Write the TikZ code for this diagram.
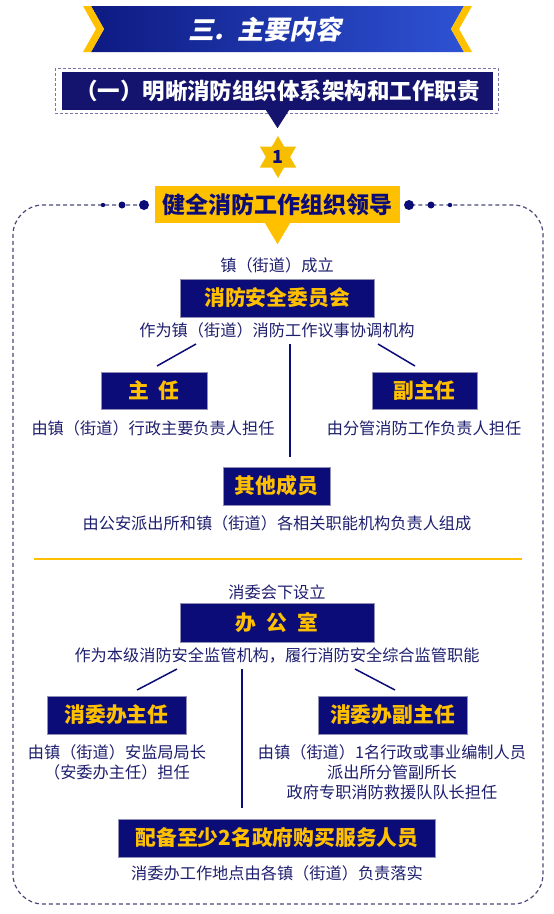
\documentclass[tikz,border=0pt]{standalone}
\usepackage{fontspec}
\usepackage{xcolor}
\setmainfont{Noto Sans CJK SC}
\newfontfamily\titlefont[FakeSlant=0.2]{Noto Sans CJK SC}

\definecolor{navy}{HTML}{0C0C78}
\definecolor{subnavy}{HTML}{14146E}
\definecolor{ink}{HTML}{1E1E6E}
\definecolor{gold}{HTML}{FFC000}
\definecolor{stargold}{HTML}{F7BE00}
\definecolor{boxedge}{HTML}{9090B4}
\definecolor{dashgray}{HTML}{484878}
\definecolor{bnavy}{HTML}{0E1A82}
\definecolor{bblue}{HTML}{2E52D4}

\begin{document}
\begin{tikzpicture}[x=1pt, y=-1pt,
  navybox/.style={fill=navy, draw=boxedge, line width=0.8pt, text=gold, inner sep=0pt,
    minimum height=38pt, font=\bfseries\fontsize{20.8}{24}\selectfont},
  note/.style={text=ink, inner sep=0pt, align=center, font=\fontsize{16.2}{20}\selectfont},
  link/.style={navy, line width=1.5pt},
  outerframe/.style={dashgray, line width=1.2pt, dash pattern=on 4pt off 3pt},
]
\useasboundingbox (0,0) rectangle (554,914);

% Title banner
\shade[left color=bnavy, middle color=bnavy, right color=bblue]
  (91,6) -- (464,6) -- (451,29) -- (464,52) -- (91,52) -- (104,29) -- cycle;
\fill[gold] (83,6) -- (91,6) -- (104,29) -- (91,52) -- (83,52) -- (96,29) -- cycle;
\fill[gold] (464,6) -- (472,6) -- (459,29) -- (472,52) -- (464,52) -- (451,29) -- cycle;
\node[text=white, font=\titlefont\bfseries\fontsize{26}{28}\selectfont] (title) at (265,29)
  {三.\hspace{14pt}主要内容};

% Subtitle
\draw[boxedge!80!navy, line width=1pt, dash pattern=on 3pt off 2pt] (55,68) rectangle (498,113);
\node[fill=subnavy, text=white, minimum width=431pt, minimum height=38pt, inner sep=0pt,
  font=\bfseries\fontsize{22.5}{24}\selectfont] (subtitle) at (277.5,91)
  {（一）明晰消防组织体系架构和工作职责};
\fill[subnavy] ([xshift=-11.5pt]subtitle.south) -- ([xshift=11.5pt]subtitle.south)
  -- ([yshift=-18pt]subtitle.south) -- cycle;

% Badge
\coordinate (badgec) at (278,157);
\fill[stargold] (badgec) +(90:21) -- +(210:21) -- +(330:21) -- cycle;
\fill[stargold] (badgec) +(270:21) -- +(30:21) -- +(150:21) -- cycle;
\node[text=navy, font=\bfseries\fontsize{18}{20}\selectfont] (badge) at (badgec) {1};

% Dashed container with dots
\draw[outerframe, rounded corners=30pt] (144,205) -- (13,205) -- (13,904) -- (543,904)
  -- (543,205) -- (409,205);
\foreach \x/\r in {144/5, 122/3.5, 103/2.2, 409/5, 431/3.5, 450/2.2}
  \fill[navy] (\x,205) circle (\r pt);

% Heading
\node[fill=gold, text=navy, minimum width=245pt, minimum height=37pt, inner sep=0pt,
  font=\bfseries\fontsize{23}{24}\selectfont] (lead) at (277.5,204.5) {健全消防工作组织领导};
\fill[gold] ([xshift=-12.5pt]lead.south) -- ([xshift=12.5pt]lead.south)
  -- ([yshift=-21pt]lead.south) -- cycle;

% Committee
\node[note] (setup1) at (277,265) {镇（街道）成立};
\node[navybox, minimum width=194pt] (committee) at (277,298) {消防安全委员会};
\node[note] (desc1) at (277,330) {作为镇（街道）消防工作议事协调机构};

\node[navybox, minimum width=106pt, minimum height=37pt] (zhuren) at (154,390.5) {主\hspace{10pt}任};
\node[note] (zhurendesc) at (153,428) {由镇（街道）行政主要负责人担任};
\node[navybox, minimum width=105pt, minimum height=37pt] (fuzhuren) at (424.5,390.5) {副主任};
\node[note] (fuzhurendesc) at (424,428) {由分管消防工作负责人担任};
\node[navybox, minimum width=107pt] (qita) at (276.5,486) {其他成员};
\node[note] (qitadesc) at (277,523) {由公安派出所和镇（街道）各相关职能机构负责人组成};

% Committee links
\coordinate (la) at (196,344); \coordinate (lb) at (157,366);
\coordinate (ma) at (290,344); \coordinate (mb) at (290,457);
\coordinate (ra) at (378,344); \coordinate (rb) at (415,366);
\draw[link] (la) -- (lb);
\draw[link] (ma) -- (mb);
\draw[link] (ra) -- (rb);

% Separator
\draw[gold, line width=2pt] (34,559) -- (522,559);

% Office
\node[note] (setup2) at (277,592) {消委会下设立};
\node[navybox, minimum width=194pt, minimum height=39pt] (office) at (277,622.5) {办\hspace{10pt}公\hspace{10pt}室};
\node[note] (desc2) at (277,655) {作为本级消防安全监管机构，履行消防安全综合监管职能};

\node[navybox, minimum width=139pt] (xwzr) at (116.5,715) {消委办主任};
\node[note] (xwzrdesc) at (117,762) {由镇（街道）安监局局长\\（安委办主任）担任};
\node[navybox, minimum width=149pt] (xwfzr) at (392.5,715) {消委办副主任};
\node[note] (xwfzrdesc) at (392,772) {由镇（街道）1名行政或事业编制人员\\派出所分管副所长\\政府专职消防救援队队长担任};

\node[navybox, minimum width=317pt] (staff) at (277,838) {配备至少2名政府购买服务人员};
\node[note] (staffdesc) at (277,873) {消委办工作地点由各镇（街道）负责落实};

% Office links
\coordinate (la2) at (177,669); \coordinate (lb2) at (137,690);
\coordinate (ma2) at (242,669); \coordinate (mb2) at (242,808);
\coordinate (ra2) at (355,669); \coordinate (rb2) at (395,690);
\draw[link] (la2) -- (lb2);
\draw[link] (ma2) -- (mb2);
\draw[link] (ra2) -- (rb2);

\end{tikzpicture}
\end{document}
